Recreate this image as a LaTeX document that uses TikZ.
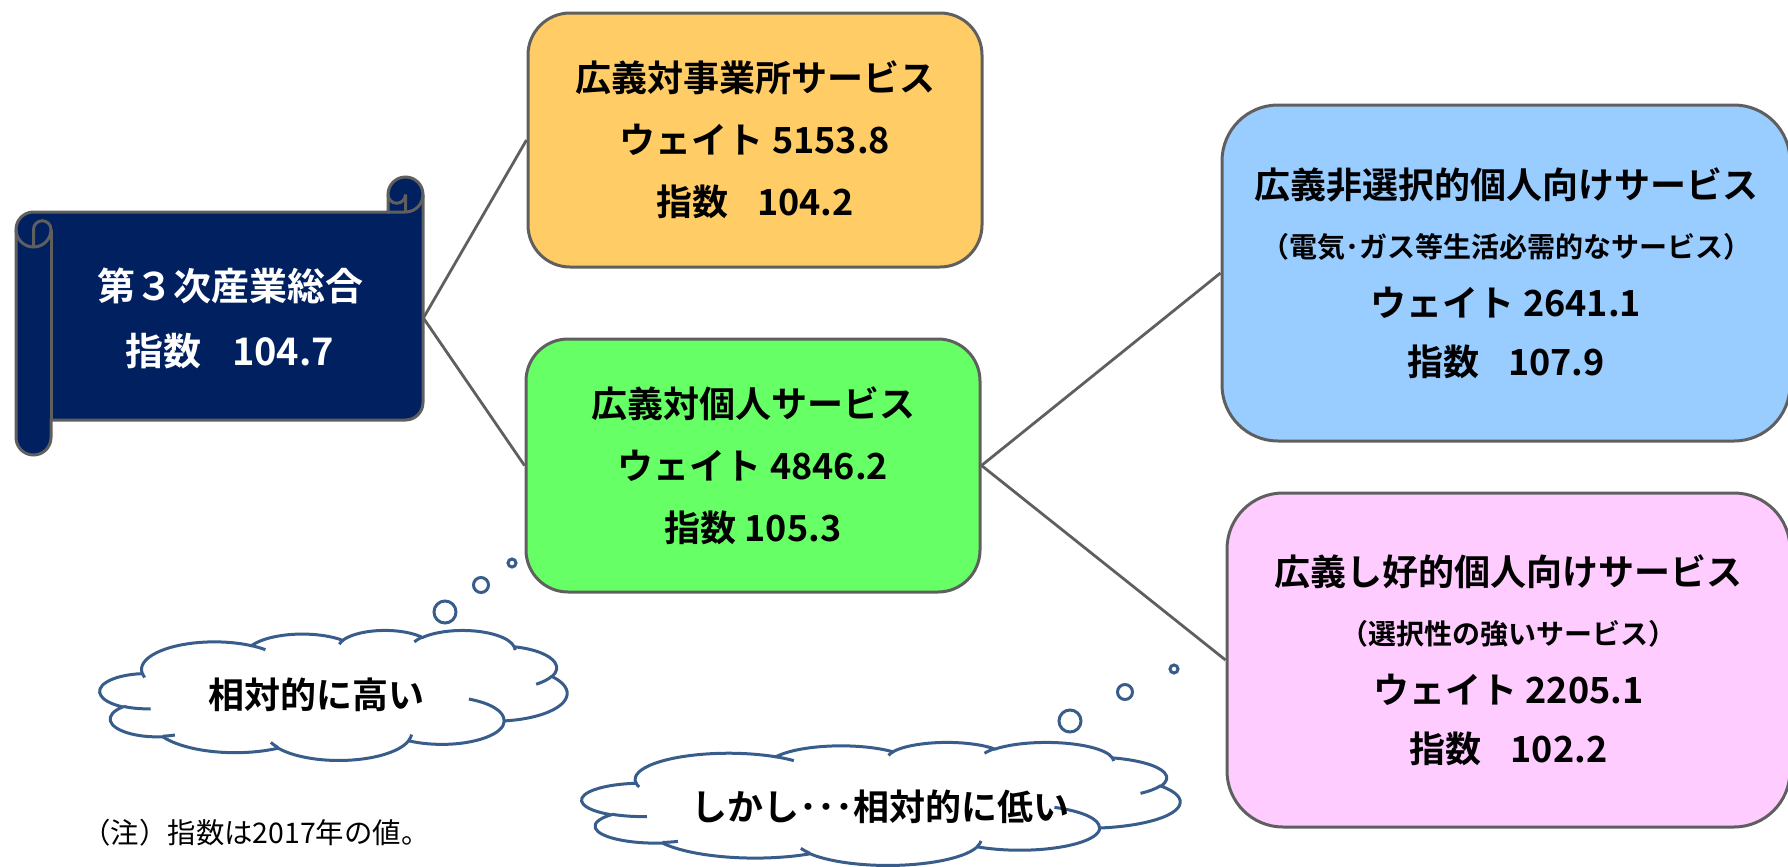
\documentclass[tikz,border=0pt]{standalone}
\usepackage{fontspec}
\setmainfont{Noto Sans CJK JP}[BoldFont={Noto Sans CJK JP Bold}]
\usetikzlibrary{positioning}

\definecolor{navy}{HTML}{002060}
\definecolor{edge}{HTML}{5F5F5F}
\definecolor{cloudblue}{HTML}{385D8A}
\definecolor{bizorange}{HTML}{FFCC66}
\definecolor{persgreen}{HTML}{66FF66}
\definecolor{needblue}{HTML}{99CCFF}
\definecolor{likepink}{HTML}{FFCCFF}

% one step of an office style cloud: x radius, y radius, start, sweep
% (angles are taken on the ellipse as seen, so turn them into parameters first)
\newcommand\puff[4]{%
  \pgfextra{%
    \pgfmathparse{Mod(atan2(#1*sin(#3),#2*cos(#3))-(#3)+180,360)-180}\xdef\puffs{\pgfmathresult}%
    \pgfmathparse{Mod(atan2(#1*sin(#3+#4),#2*cos(#3+#4))-(#3+#4)+180,360)-180}\xdef\puffe{\pgfmathresult}%
  }%
  arc[start angle={#3+(\puffs)}, delta angle={#4+(\puffe)-(\puffs)}, x radius=#1, y radius=#2]}

% the cloud itself, in a 432 x 432 box
\newcommand\cloudpath{%
  \filldraw[cloudline, fill=white] (39.00,143.70)
    \puff{67.53}{91.90}{-190.4875}{123.7805}
    \puff{53.33}{72.67}{-144.1024}{89.9452}
    \puff{43.65}{59.45}{-145.8079}{99.7230}
    \puff{48.57}{65.95}{-130.9861}{117.2417}
    \puff{53.33}{72.73}{-78.7089}{109.0269}
    \puff{67.75}{92.20}{-46.2673}{130.2690}
    \puff{57.85}{78.67}{0.6250}{114.0333}
    \puff{67.52}{92.15}{22.4516}{115.1726}
    \puff{77.20}{105.43}{66.2426}{75.7110}
    \puff{43.60}{59.18}{-274.9421}{146.7356}
    \puff{43.45}{59.45}{-246.8285}{152.5189} -- cycle;
  \draw[cloudline]
    (46.93,261.77) \puff{43.45}{59.45}{86.7420}{26.4295}
    (69.28,348.99) \puff{43.60}{59.18}{73.6105}{11.4475}
    (164.78,390.90) \puff{67.52}{92.15}{137.6242}{14.0811}
    (288.27,347.51) \puff{67.52}{92.15}{6.4533}{15.9984}
    (341.29,229.54) \puff{57.85}{78.67}{-70.2924}{70.9174}
    (417.98,153.54) \puff{53.33}{72.73}{30.3180}{27.7515}
    (383.24,54.26) \puff{48.57}{65.95}{-13.7443}{14.8589}
    (290.78,39.52) \puff{48.57}{65.95}{-149.1815}{18.1954}
    (221.41,47.20) \puff{43.65}{59.45}{-163.4943}{17.6864}
    (140.00,51.92) \puff{67.53}{91.90}{-66.7070}{12.3194}
    (41.27,157.89) \puff{67.53}{91.90}{157.6544}{11.8582};
}

\begin{document}
\begin{tikzpicture}[x=0.5pt, y=-0.5pt,
  scrollline/.style={draw=edge, line width=1.5pt},
  box/.style={draw=edge, line width=1.5pt, rounded corners=21pt, align=center, inner sep=0pt,
    font=\bfseries\fontsize{18}{31}\selectfont},
  bigbox/.style={box, rounded corners=28pt, font=\bfseries\fontsize{18}{29.5}\selectfont},
  link/.style={draw=edge, line width=1.4pt},
  cloudline/.style={draw=cloudblue, line width=1.5pt},
  thought/.style={font=\bfseries\fontsize{18}{20}\selectfont}]
\useasboundingbox (0,0) rectangle (1788,867);

% scroll for the total
\begin{scope}[shift={(16,177)}]
  \filldraw[scrollline, fill=navy] (0,52.5) arc[start angle=180, delta angle=90, radius=17.5]
    -- (372,35) -- (372,17.5) arc[start angle=180, delta angle=180, radius=17.5]
    -- (407,225.5) arc[start angle=0, delta angle=90, radius=17.5]
    -- (35,243) -- (35,260.5) arc[start angle=0, delta angle=180, radius=17.5] -- cycle;
  \draw[scrollline] (372,35) -- (389.5,35) arc[start angle=90, delta angle=-90, radius=17.5];
  \draw[scrollline] (389.5,35) -- (389.5,17.5) arc[start angle=0, delta angle=180, radius=8.75];
  \draw[scrollline] (17.5,70) -- (17.5,52.5) arc[start angle=180, delta angle=180, radius=8.75]
    arc[start angle=0, delta angle=180, radius=17.5];
  \draw[scrollline] (35,52.5) -- (35,243);
\end{scope}
\node[text=white, align=center, inner sep=0pt, minimum width=193pt, minimum height=104pt,
  font=\bfseries\fontsize{19}{32.5}\selectfont] (total) at (230,318)
  {第３次産業総合\\指数\hspace{.8em}104.7};

% the four groups
\node[box, fill=bizorange, minimum width=227pt, minimum height=127pt] (business) at (755,140)
  {広義対事業所サービス\\ウェイト 5153.8\\指数\hspace{.8em}104.2};
\node[box, fill=persgreen, minimum width=227pt, minimum height=126.5pt] (personal) at (753,465.5)
  {広義対個人サービス\\ウェイト 4846.2\\指数 105.3};
\node[bigbox, fill=needblue, minimum width=284pt, minimum height=168pt] (needs) at (1506,273)
  {広義非選択的個人向けサービス\\{\fontsize{14}{29.5}\selectfont （電気･ガス等生活必需的なサービス）}\\ウェイト 2641.1\\指数\hspace{.8em}107.9};
\node[bigbox, fill=likepink, minimum width=281.5pt, minimum height=167pt] (wants) at (1508.5,660)
  {広義し好的個人向けサービス\\{\fontsize{14}{29.5}\selectfont （選択性の強いサービス）}\\ウェイト 2205.1\\指数\hspace{.8em}102.2};

\draw[link] (total.east) -- (business.west);
\draw[link] (total.east) -- (personal.west);
\draw[link] (personal.east) -- (needs.west);
\draw[link] (personal.east) -- (wants.west);

% thought clouds
\begin{scope}[shift={(100,630)}, x=0.54051pt, y=-0.150463pt]
  \cloudpath
\end{scope}
\draw[cloudline] (445,612) circle[radius=11] (481,585) circle[radius=7.5] (512,563) circle[radius=4];
\node[thought] (high) at (316,695) {相対的に高い};

\begin{scope}[shift={(582,742)}, x=0.69213pt, y=-0.142361pt]
  \cloudpath
\end{scope}
\draw[cloudline] (1070,721) circle[radius=11] (1125,692) circle[radius=7.5] (1174,669) circle[radius=4];
\node[thought] (low) at (880,807) {しかし･･･相対的に低い};

\node[anchor=west, font=\fontsize{14.2}{16}\selectfont, inner sep=0pt] (note) at (82,833)
  {（注）指数は2017年の値。};
\end{tikzpicture}
\end{document}
